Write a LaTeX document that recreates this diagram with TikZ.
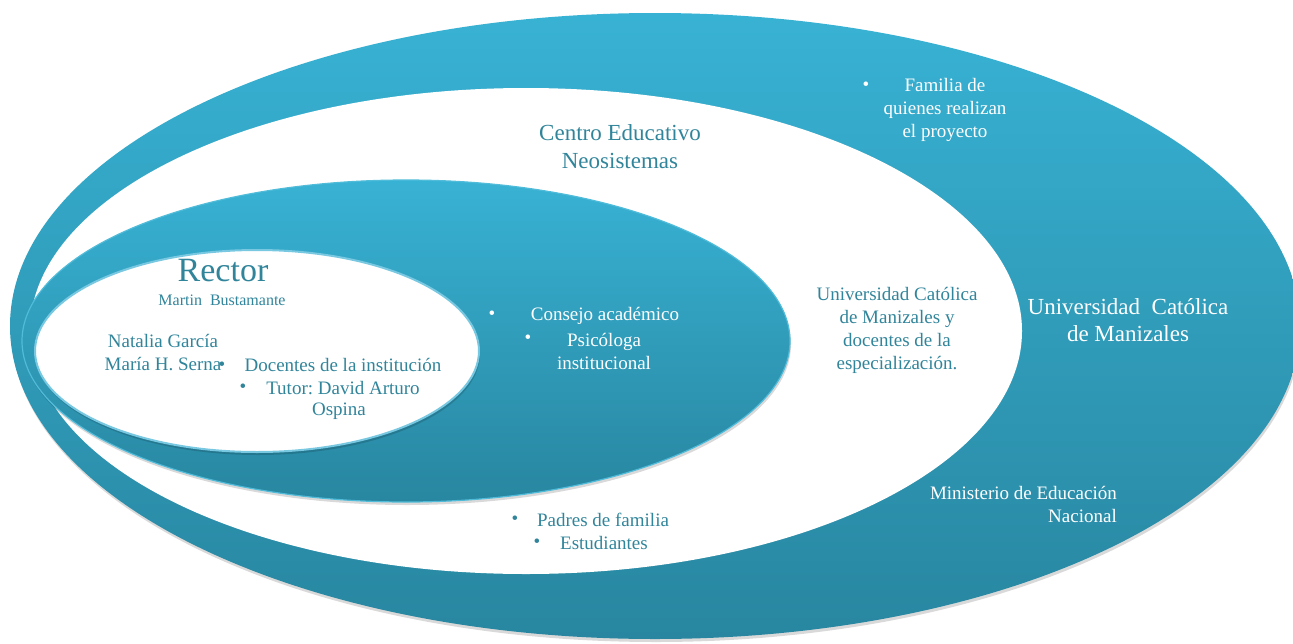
\documentclass[tikz,border=0pt]{standalone}
\usepackage{fontspec}
\setmainfont{Liberation Serif}
\newfontfamily\tnr{Liberation Serif}
\definecolor{bTop}{RGB}{56,178,212}
\definecolor{bBot}{RGB}{40,134,160}
\definecolor{rimC}{RGB}{80,188,218}
\definecolor{rimD}{RGB}{120,200,225}
\definecolor{tealtxt}{RGB}{49,133,155}
\tikzset{
  blueell/.style={top color=bTop, bottom color=bBot},
  shadowell/.style={fill=black, opacity=0.15},
  wtxt/.style={text=white, font=\tnr\fontsize{19}{23}\selectfont, align=center, inner sep=0pt},
  ttxt/.style={text=tealtxt, font=\tnr\fontsize{19}{23}\selectfont, align=center, inner sep=0pt},
  wbul/.style={text=white, font=\tnr\fontsize{19}{23}\selectfont, inner sep=0pt},
  tbul/.style={text=tealtxt, font=\tnr\fontsize{19}{23}\selectfont, inner sep=0pt},
}
\begin{document}
\begin{tikzpicture}[x=1pt,y=-1pt]
\useasboundingbox (0,0) rectangle (1293,643);
\clip (0,0) rectangle (1293,643);
% outer ring A
\fill[shadowell] (656,329) ellipse [x radius=645pt, y radius=313pt];
\path[blueell] (655,326) ellipse [x radius=645pt, y radius=313pt];
% white B
\fill[white] (526,331) ellipse [x radius=496pt, y radius=243pt];
% blue C
\fill[shadowell] (407,344) ellipse [x radius=384pt, y radius=161pt];
\path[blueell, draw=rimC, line width=1.2pt] (406,341) ellipse [x radius=384pt, y radius=161pt];
% white D
\fill[shadowell] (258,354) ellipse [x radius=222pt, y radius=101pt];
\path[fill=white, draw=rimD, line width=2pt] (257,351) ellipse [x radius=222pt, y radius=101pt];

% texts in outer ring
\node[wbul] (b1) at (866,86) {\textbullet};
\node[wtxt] (fam) at (945,110) {Familia de\\quienes realizan\\el proyecto};
\node[wtxt, font=\tnr\fontsize{23}{27}\selectfont] (ucm) at (1128,320) {Universidad\ \ Católica\\de Manizales};
\node[wtxt, align=right, anchor=east] (men) at (1117,504) {Ministerio de Educación\\Nacional};

% texts in white B
\node[ttxt, font=\tnr\fontsize{23}{28}\selectfont] (ceneo) at (620,147) {Centro Educativo\\Neosistemas};
\node[ttxt] (ucmdoc) at (897,330) {Universidad Católica\\de Manizales y\\docentes de la\\especialización.};
\node[tbul] (b2) at (515,520) {\textbullet};
\node[ttxt] (padres) at (603,520) {Padres de familia};
\node[tbul] (b3) at (537,543) {\textbullet};
\node[ttxt] (estud) at (604,543) {Estudiantes};

% texts in blue C
\node[wbul] (b4) at (492,315) {\textbullet};
\node[wtxt] (consejo) at (605,316) {Consejo académico};
\node[wbul] (b5) at (528,339) {\textbullet};
\node[wtxt] (psico) at (604,351) {Psicóloga\\institucional};

% texts in white D
\node[ttxt, font=\tnr\fontsize{34}{40}\selectfont] (rector) at (223,271) {Rector};
\node[ttxt, font=\tnr\fontsize{16}{19}\selectfont] (martin) at (222,300) {Martin\ \ Bustamante};
\node[ttxt] (natalia) at (163,353) {Natalia García\\María H. Serna};
\node[tbul] (b6) at (222,366) {\textbullet};
\node[ttxt] (docentes) at (343,365) {Docentes de la institución};
\node[tbul] (b7) at (243,388) {\textbullet};
\node[ttxt] (tutor) at (343,388) {Tutor:\ David\ Arturo};
\node[ttxt] (ospina) at (339,411) {Ospina};
\end{tikzpicture}
\end{document}
